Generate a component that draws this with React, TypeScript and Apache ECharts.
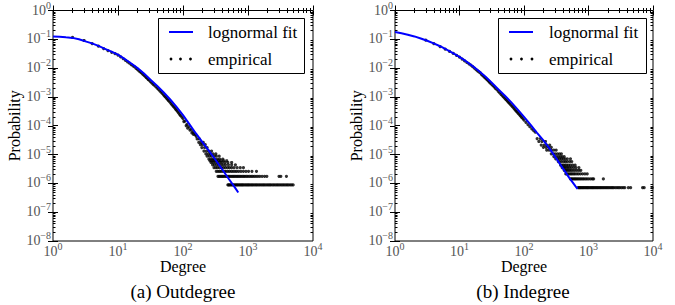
import React, { useEffect, useRef } from "react";
import * as echarts from "echarts";

const SERIF = "Liberation Serif";

// ---- tick labels (powers of ten) ----
const xTickExponents = [0, 1, 2, 3, 4];
const yTickExponents = [-8, -7, -6, -5, -4, -3, -2, -1, 0];

// ---- (a) Outdegree: lognormal fit ----
const outFitDegree = [1, 1.26, 1.58, 2, 2.51, 3.16, 3.98, 5.01, 6.31, 7.94, 10, 12.6, 15.8, 20, 25.1, 31.6, 39.8, 50.1, 63.1, 79.4, 100, 126, 158, 200, 251, 316, 398, 501, 631, 708];
const outFitProb = [0.126, 0.123, 0.117, 0.112, 0.1, 0.0851, 0.0724, 0.0589, 0.0468, 0.0372, 0.0295, 0.0209, 0.0148, 0.01, 0.00646, 0.00398, 0.00245, 0.00145, 8.3e-4, 4.5e-4, 2.34e-4, 1.12e-4, 5.4e-5, 2.63e-5, 1.35e-5, 6.6e-6, 3.16e-6, 1.48e-6, 7.1e-7, 4.8e-7];

// ---- (a) Outdegree: empirical, body ----
const outBodyDegree = [2, 3, 4, 5, 6, 7, 8, 9, 10, 11, 12, 13, 14, 15, 16, 17, 18, 19, 20, 22, 24, 26, 28, 30, 33, 36, 40, 44, 48, 52, 56, 60, 65, 70, 75, 80, 86, 92, 100, 107, 115, 123, 132, 141, 150, 103, 112, 118, 128, 137, 145, 155, 160, 21, 23, 25, 27, 29, 31.5, 34.5, 38, 42, 46, 50, 54, 58, 62.5, 67.5, 72.5, 77.5, 83, 89, 96];
const outBodyProb = [0.117, 0.091, 0.071, 0.0575, 0.0479, 0.0407, 0.0355, 0.0316, 0.0282, 0.0245, 0.0214, 0.0186, 0.0166, 0.0148, 0.0132, 0.012, 0.011, 0.00977, 0.00891, 0.00741, 0.00617, 0.00525, 0.00447, 0.0038, 0.00309, 0.00257, 0.00204, 0.00162, 0.00132, 0.00107, 8.9e-4, 7.4e-4, 6.0e-4, 4.9e-4, 4.1e-4, 3.4e-4, 2.75e-4, 2.24e-4, 1.78e-4, 1.45e-4, 1.12e-4, 9.3e-5, 7.6e-5, 6.3e-5, 5.4e-5, 1.4e-4, 1.0e-4, 8.2e-5, 7.0e-5, 5.6e-5, 5.0e-5, 4.8e-5, 4.3e-5, 0.0081, 0.0068, 0.0057, 0.0048, 0.0041, 0.0034, 0.0028, 0.0023, 0.00182, 0.00146, 0.00119, 9.8e-4, 8.1e-4, 6.7e-4, 5.4e-4, 4.5e-4, 3.7e-4, 3.05e-4, 2.45e-4, 2.0e-4];

// ---- (a) Outdegree: empirical, tail (probability level -> degrees seen at it) ----
const outTailLevels = [8.8e-7, 1.75e-6, 2.63e-6, 3.5e-6, 4.4e-6, 5.3e-6, 6.1e-6, 7.0e-6, 8.8e-6, 1.05e-5, 1.32e-5, 1.75e-5, 2.2e-5, 2.63e-5, 3.5e-5];
const outTailDegrees = [
  [490, 505, 520, 540, 560, 580, 600, 625, 650, 675, 700, 730, 760, 790, 820, 850, 890, 930, 970, 1010, 1050, 1100, 1150, 1200, 1260, 1320, 1380, 1450, 1520, 1600, 1680, 1760, 1850, 1950, 2050, 2150, 2250, 2380, 2500, 2640, 2780, 2920, 3080, 3250, 3420, 3600, 3800, 4000, 4200, 4450, 4700, 4950],
  [345, 360, 375, 390, 405, 420, 440, 460, 480, 500, 520, 545, 570, 595, 620, 650, 680, 710, 745, 780, 820, 860, 900, 950, 1000, 1060, 1120, 1180, 1250, 1330, 1420, 1520, 1650, 1800, 1950, 3000, 3200, 3900],
  [325, 345, 365, 385, 410, 435, 460, 490, 520, 555, 590, 630, 670, 720, 780, 850, 930, 1020, 1150, 1350],
  [300, 320, 340, 365, 390, 420, 450, 485, 520, 560, 610, 680, 760, 850],
  [285, 305, 330, 355, 385, 415, 450, 500, 560, 640],
  [270, 290, 315, 340, 370, 400, 440, 490, 560],
  [260, 280, 300, 325, 350, 380, 420, 470],
  [250, 270, 290, 310, 340, 370, 410],
  [235, 255, 275, 300, 325, 360],
  [225, 245, 265, 290, 320],
  [210, 230, 250, 275],
  [195, 215, 235],
  [185, 200, 220],
  [175, 190, 205],
  [165, 178],
];

// ---- (b) Indegree: lognormal fit ----
const inFitDegree = [1, 1.26, 1.58, 2, 2.51, 3.16, 3.98, 5.01, 6.31, 7.94, 10, 12.6, 15.8, 20, 25.1, 31.6, 39.8, 50.1, 63.1, 79.4, 100, 126, 158, 200, 251, 316, 398, 501, 631, 676];
const inFitProb = [0.178, 0.162, 0.145, 0.126, 0.107, 0.0891, 0.0724, 0.0575, 0.0437, 0.0331, 0.0245, 0.0174, 0.012, 0.00794, 0.00513, 0.00309, 0.00186, 0.00112, 6.6e-4, 3.7e-4, 2.04e-4, 1.1e-4, 5.75e-5, 3.09e-5, 1.58e-5, 7.4e-6, 3.39e-6, 1.58e-6, 7.9e-7, 6.5e-7];

// ---- (b) Indegree: empirical, body ----
const inBodyDegree = [3, 4, 5, 6, 7, 8, 9, 10, 11, 12, 13, 14, 15, 16, 17, 18, 19, 20, 22, 24, 26, 28, 30, 33, 36, 40, 44, 48, 52, 56, 60, 65, 70, 75, 80, 86, 92, 100, 107, 115, 123, 132, 141, 150, 21, 23, 25, 27, 29, 31.5, 34.5, 38, 42, 46, 50, 54, 58, 62.5, 67.5, 72.5, 77.5, 83, 89, 96];
const inBodyProb = [0.093, 0.0708, 0.0562, 0.0457, 0.038, 0.0324, 0.0275, 0.024, 0.0204, 0.0178, 0.0158, 0.0141, 0.0126, 0.0112, 0.01, 0.0089, 0.0081, 0.0074, 0.006, 0.005, 0.00427, 0.00363, 0.00302, 0.00245, 0.002, 0.00155, 0.00123, 0.001, 8.3e-4, 6.9e-4, 5.9e-4, 4.8e-4, 4.0e-4, 3.3e-4, 2.8e-4, 2.34e-4, 1.95e-4, 1.58e-4, 1.32e-4, 1.1e-4, 9.3e-5, 7.8e-5, 6.8e-5, 6.0e-5, 0.0068, 0.0055, 0.0046, 0.0039, 0.0033, 0.00275, 0.00224, 0.00178, 0.00138, 0.00112, 9.1e-4, 7.6e-4, 6.4e-4, 5.3e-4, 4.4e-4, 3.6e-4, 3.1e-4, 2.57e-4, 2.14e-4, 1.78e-4];

// ---- (b) Indegree: empirical, tail ----
const inTailLevels = [7.1e-7, 1.42e-6, 2.13e-6, 2.84e-6, 3.55e-6, 4.26e-6, 5.7e-6, 7.1e-6, 8.5e-6, 1.06e-5, 1.42e-5, 1.78e-5, 2.13e-5, 2.84e-5, 3.55e-5];
const inTailDegrees = [
  [690, 710, 730, 750, 775, 800, 825, 850, 880, 910, 940, 970, 1000, 1040, 1080, 1120, 1160, 1200, 1250, 1300, 1350, 1400, 1460, 1520, 1580, 1650, 1720, 1800, 1880, 1960, 2050, 2150, 2250, 2350, 2450, 2600, 2750, 2900, 3050, 3250, 3450, 3650, 4150, 4500, 6900, 7300, 9700],
  [525, 545, 565, 590, 615, 640, 670, 700, 735, 770, 810, 850, 900, 950, 1010, 1080, 1150, 1200, 1700],
  [445, 465, 485, 510, 535, 560, 590, 620, 660, 700, 750, 810, 880, 955],
  [420, 440, 460, 485, 510, 540, 575, 615, 660, 710, 760],
  [390, 410, 430, 455, 480, 510, 545, 590, 640, 710],
  [370, 390, 410, 435, 460, 490, 525, 570, 620],
  [340, 360, 385, 415, 440, 470, 510, 550],
  [310, 335, 355, 380, 405, 435, 470, 525],
  [290, 315, 340, 365, 390, 420],
  [265, 285, 305, 330, 355, 380],
  [225, 245, 265, 290, 315],
  [200, 220, 240, 265],
  [185, 205, 225, 250],
  [170, 190, 215],
  [160, 180],
];

const FIT_NAME = "lognormal fit";
const EMP_NAME = "empirical";

function pairs(xs: number[], ys: number[]) {
  return xs.map((x, i) => [x, ys[i]]);
}
function tailPairs(levels: number[], degs: number[][]) {
  const out: number[][] = [];
  levels.forEach((p, i) => degs[i].forEach((d) => out.push([d, p])));
  return out;
}

function minorLogs(from: number, to: number) {
  const out: number[] = [];
  for (let e = from; e < to; e++) for (let k = 2; k <= 9; k++) out.push(e + Math.log10(k));
  return out;
}

const LABEL_COLOR = "#555555";
const supFormatter = (v: number) => {
  const e = Math.round(Math.log10(v));
  return `{base|10}{sup|${e < 0 ? "\u2212" + -e : e}}`;
};
const rich = {
  base: { fontSize: 14, fontFamily: SERIF, color: LABEL_COLOR, lineHeight: 17, verticalAlign: "bottom" },
  sup: { fontSize: 10, fontFamily: SERIF, color: LABEL_COLOR, verticalAlign: "top" },
};

const grids = [
  { left: 53, top: 10, width: 260, height: 231 },
  { left: 395, top: 10, width: 258, height: 231 },
];

function buildAxes(g: number) {
  const tickStyle = { color: "#000", width: 1 };
  const hidden = { axisLine: { show: false }, axisLabel: { show: false }, splitLine: { show: false } };
  const xMajor = xTickExponents.slice();
  const yMajor = yTickExponents.slice();
  const xAxes = [
    {
      type: "log", logBase: 10, gridIndex: g, min: 1, max: 10000, position: "bottom",
      axisLine: { show: false }, splitLine: { show: false },
      axisTick: { show: true, inside: true, length: 5, lineStyle: tickStyle },
      axisLabel: { formatter: supFormatter, rich, margin: 0, fontFamily: SERIF, fontSize: 14, color: LABEL_COLOR },
      name: "Degree", nameLocation: "middle", nameGap: 17, nameMoveOverlap: false,
      nameTextStyle: { fontFamily: SERIF, fontSize: 16, color: "#000", lineHeight: 16 },
    },
    { type: "value", gridIndex: g, min: 0, max: 4, position: "bottom", ...hidden,
      axisTick: { show: true, inside: true, length: 2.5, lineStyle: tickStyle, customValues: minorLogs(0, 4) } },
    { type: "value", gridIndex: g, min: 0, max: 4, position: "top", ...hidden,
      axisTick: { show: true, inside: true, length: 5, lineStyle: tickStyle, customValues: xMajor } },
    { type: "value", gridIndex: g, min: 0, max: 4, position: "top", ...hidden,
      axisTick: { show: true, inside: true, length: 2.5, lineStyle: tickStyle, customValues: minorLogs(0, 4) } },
  ];
  const yAxes = [
    {
      type: "log", logBase: 10, gridIndex: g, min: 1e-8, max: 1, position: "left",
      axisLine: { show: false }, splitLine: { show: false },
      axisTick: { show: true, inside: true, length: 5, lineStyle: tickStyle },
      axisLabel: { formatter: supFormatter, rich, margin: 2, padding: [0, 0, 4, 0], fontFamily: SERIF, fontSize: 14, color: LABEL_COLOR },
      name: "Probability", nameLocation: "middle", nameGap: 29,
      nameTextStyle: { fontFamily: SERIF, fontSize: 16, color: "#000" },
    },
    { type: "value", gridIndex: g, min: -8, max: 0, position: "left", ...hidden,
      axisTick: { show: true, inside: true, length: 2.5, lineStyle: tickStyle, customValues: minorLogs(-8, 0) } },
    { type: "value", gridIndex: g, min: -8, max: 0, position: "right", ...hidden,
      axisTick: { show: true, inside: true, length: 5, lineStyle: tickStyle, customValues: yMajor } },
    { type: "value", gridIndex: g, min: -8, max: 0, position: "right", ...hidden,
      axisTick: { show: true, inside: true, length: 2.5, lineStyle: tickStyle, customValues: minorLogs(-8, 0) } },
  ];
  return { xAxes, yAxes };
}

function seriesFor(g: number, fit: number[][], emp: number[][]) {
  return [
    {
      name: FIT_NAME, type: "line", xAxisIndex: g * 4, yAxisIndex: g * 4, data: fit,
      showSymbol: false, symbol: "none", lineStyle: { color: "#0000ff", width: 2 },
      itemStyle: { color: "#0000ff" }, z: 5,
    },
    {
      name: EMP_NAME, type: "scatter", xAxisIndex: g * 4, yAxisIndex: g * 4, data: emp,
      symbolSize: 3.2, itemStyle: { color: "#000" }, z: 3,
    },
  ];
}

function legendGraphic(bx: number, by: number, bw: number, bh: number, lineX: number, textX: number, dotXs: number[]) {
  return {
    type: "group", z: 100,
    children: [
      { type: "rect", shape: { x: bx + 0.5, y: by + 0.5, width: bw, height: bh }, style: { fill: "#fff", stroke: "#000", lineWidth: 1 } },
      { type: "line", shape: { x1: lineX, y1: by + 14, x2: lineX + 24, y2: by + 14 }, style: { stroke: "#0000ff", lineWidth: 2 } },
      { type: "text", x: textX, y: by + 14, style: { text: FIT_NAME, fontFamily: SERIF, fontSize: 17, fill: "#000", align: "left", verticalAlign: "middle" } },
      ...dotXs.map((dx) => ({ type: "circle", shape: { cx: dx, cy: by + 41, r: 1.4 }, style: { fill: "#000" } })),
      { type: "text", x: textX, y: by + 41, style: { text: EMP_NAME, fontFamily: SERIF, fontSize: 17, fill: "#000", align: "left", verticalAlign: "middle" } },
    ],
  };
}

export default function App() {
  const ref = useRef<HTMLDivElement>(null);
  useEffect(() => {
    if (!ref.current) return;
    const chart = echarts.init(ref.current, undefined, { renderer: "svg" });
    const a0 = buildAxes(0);
    const a1 = buildAxes(1);
    const option = {
      animation: false,
      backgroundColor: "#fff",
      textStyle: { fontFamily: SERIF },
      grid: grids.map((g) => ({ ...g, show: true, borderColor: "#000", borderWidth: 1, backgroundColor: "transparent" })),
      xAxis: [...a0.xAxes, ...a1.xAxes],
      yAxis: [...a0.yAxes, ...a1.yAxes],
      series: [
        ...seriesFor(0, pairs(outFitDegree, outFitProb), [...pairs(outBodyDegree, outBodyProb), ...tailPairs(outTailLevels, outTailDegrees)]),
        ...seriesFor(1, pairs(inFitDegree, inFitProb), [...pairs(inBodyDegree, inBodyProb), ...tailPairs(inTailLevels, inTailDegrees)]),
      ],
      graphic: [
        legendGraphic(158, 18, 146, 55, 169, 208, [171, 180.5, 190.5]),
        legendGraphic(498, 18, 148, 55, 509, 549, [511, 521.5, 532]),
        { type: "text", x: 183, y: 291, z: 100, style: { text: "(a) Outdegree", fontFamily: SERIF, fontSize: 19, fill: "#000", align: "center", verticalAlign: "middle" } },
        { type: "text", x: 523, y: 291, z: 100, style: { text: "(b) Indegree", fontFamily: SERIF, fontSize: 19, fill: "#000", align: "center", verticalAlign: "middle" } },
      ],
    };
    chart.setOption(option as any);
    return () => chart.dispose();
  }, []);
  return <div ref={ref} style={{ position: "fixed", left: 0, top: 0, width: 675, height: 305, background: "#fff" }} />;
}
